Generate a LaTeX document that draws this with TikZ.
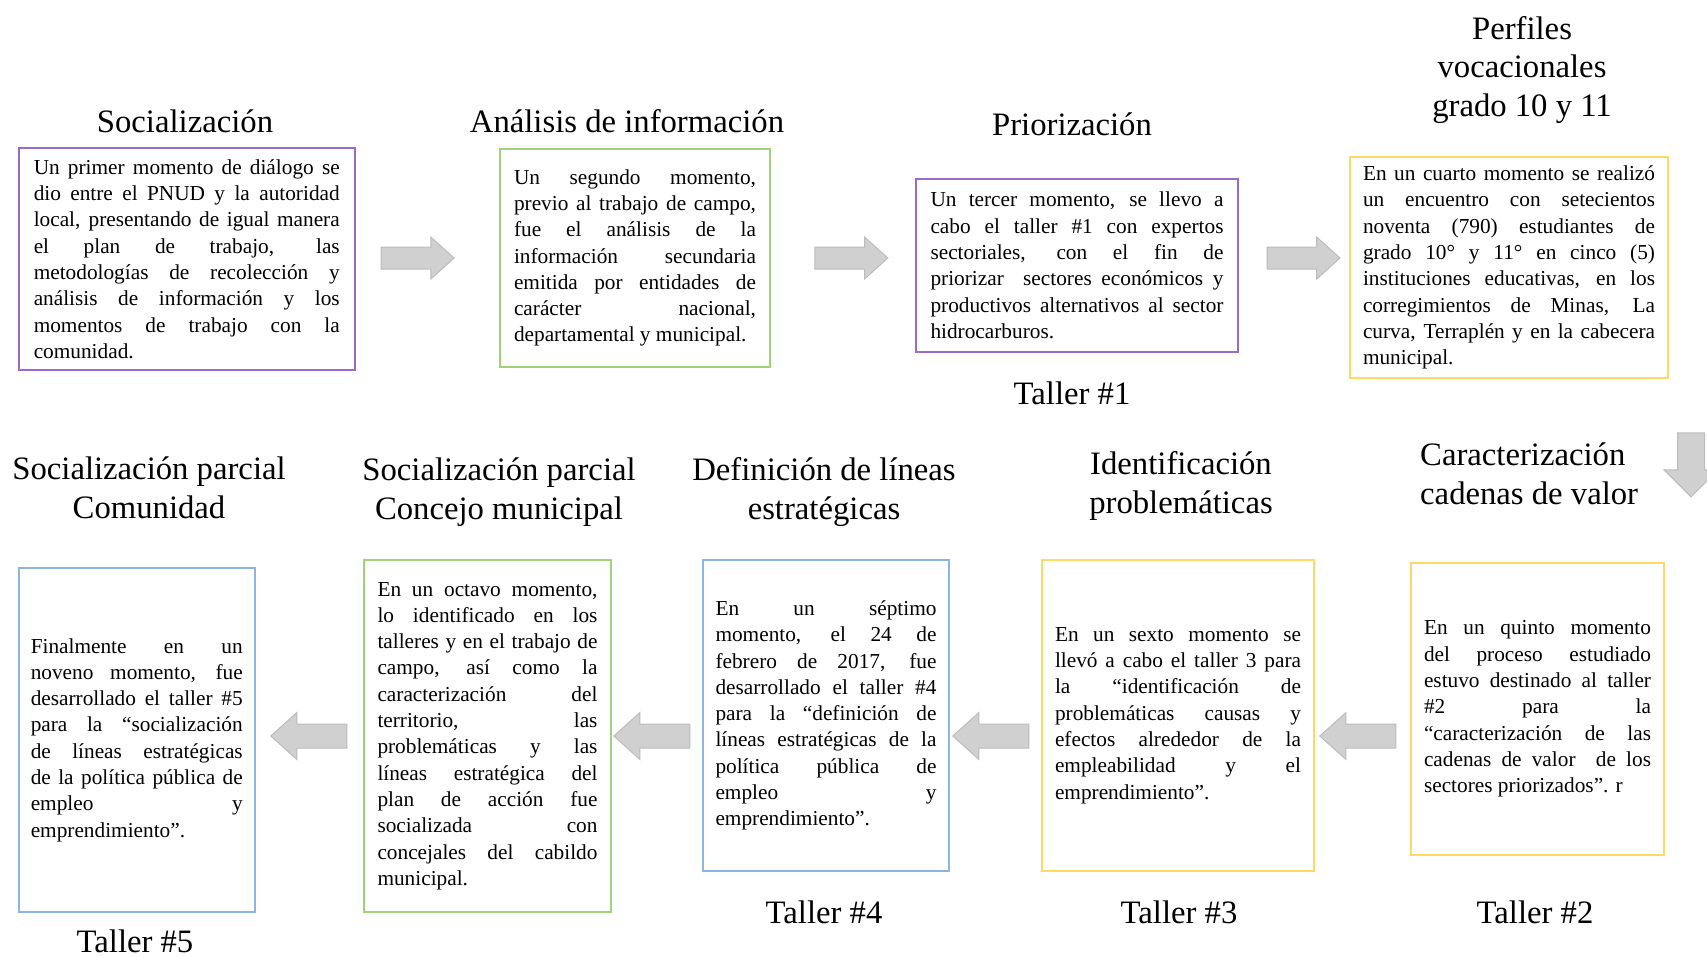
\documentclass[tikz,border=0pt]{standalone}
\usepackage{fontspec}
\setmainfont{Liberation Serif}
\usetikzlibrary{shapes.arrows}

\definecolor{morado}{RGB}{152,108,200}
\definecolor{verde}{RGB}{160,210,120}
\definecolor{dorado}{RGB}{255,217,102}
\definecolor{azul}{RGB}{141,180,226}
\definecolor{grisrelleno}{RGB}{208,208,208}
\definecolor{grisborde}{RGB}{188,188,188}

\newcommand{\fuentecaja}{\fontsize{21.3}{26.3}\selectfont\tolerance=10000\hyphenpenalty=10000}
\newcommand{\fuentetitulo}{\fontsize{32.7}{38.5}\selectfont}
\hbadness=10000

\begin{document}
\begin{tikzpicture}[x=1pt,y=-1pt,
    caja/.style={draw=#1, line width=2pt, inner sep=0pt, align=justify, font=\fuentecaja},
    titulo/.style={font=\fuentetitulo, align=center, inner sep=0pt},
    flecha/.style={single arrow, draw=grisborde, fill=grisrelleno, line width=1pt, anchor=tail,
        single arrow head indent=0pt, single arrow tip angle=84},
    flechasup/.style={flecha, minimum height=73pt, inner xsep=0pt, inner ysep=10.5pt, single arrow head extend=10pt},
    flechainf/.style={flecha, minimum height=76pt, inner xsep=0pt, inner ysep=11.5pt, single arrow head extend=11.5pt,
        shape border rotate=180},
    flechabaja/.style={flecha, minimum height=64pt, inner xsep=13pt, inner ysep=0pt, single arrow head extend=13.5pt,
        single arrow tip angle=90, shape border rotate=270}]
    \useasboundingbox (0,0) rectangle (1707,956);

    %FILA SUPERIOR
    \node[titulo, anchor=base] (t1) at (185,132) {Socialización};
    \node[caja=morado, text width=306pt, minimum width=336.5pt, minimum height=222pt] (b1) at (186.75,259) {Un primer momento de diálogo se\linebreak
        dio entre el PNUD y la autoridad\linebreak
        local, presentando de igual manera\linebreak
        el plan de trabajo, las\linebreak
        metodologías de recolección y\linebreak
        análisis de información y los\linebreak
        momentos de trabajo con la\linebreak
        comunidad.};

    \node[titulo, anchor=base] (t2) at (627,132) {Análisis de información};
    \node[caja=verde, text width=242pt, minimum width=270pt, minimum height=218pt] (b2) at (635,258) {Un segundo momento,\linebreak
        previo al trabajo de campo,\linebreak
        fue el análisis de la\linebreak
        información secundaria\linebreak
        emitida por entidades de\linebreak
        carácter nacional,\linebreak
        departamental y municipal.};

    \node[titulo, anchor=base] (t3) at (1072,135) {Priorización};
    \node[caja=morado, text width=293pt, minimum width=322pt, minimum height=173pt] (b3) at (1077,265.5) {Un tercer momento, se llevo a\linebreak
        cabo el taller \#1 con expertos\linebreak
        sectoriales, con el fin de\linebreak
        priorizar~ sectores económicos y\linebreak
        productivos alternativos al sector\linebreak
        hidrocarburos.};
    \node[titulo, anchor=base] (taller1) at (1072,404) {Taller \#1};

    \node[titulo] (t4) at (1522,70) {Perfiles\\vocacionales\\grado 10 y 11};
    \node[caja=dorado, text width=292pt, minimum width=318pt, minimum height=221pt] (b4) at (1509,267.5) {En un cuarto momento se realizó\linebreak
        un encuentro con setecientos\linebreak
        noventa (790) estudiantes de\linebreak
        grado 10° y 11° en cinco (5)\linebreak
        instituciones educativas, en los\linebreak
        corregimientos de Minas, La\linebreak
        curva, Terraplén y en la cabecera\linebreak
        municipal.};

    %FILA INFERIOR
    \node[titulo, align=left, anchor=west] (t5) at (1420,474) {Caracterización\\cadenas de valor};
    \node[caja=dorado, text width=227pt, minimum width=253pt, minimum height=292pt] (b5) at (1537.5,709) {En un quinto momento\linebreak
        del proceso estudiado\linebreak
        estuvo destinado al taller\linebreak
        \#2 para la\linebreak
        “caracterización de las\linebreak
        cadenas de valor~ de los\linebreak
        sectores priorizados”. r};
    \node[titulo, anchor=base] (taller2) at (1535,923) {Taller \#2};

    \node[titulo] (t6) at (1181,486) {Identificación\\problemáticas};
    \node[caja=dorado, text width=246pt, minimum width=272pt, minimum height=311pt] (b6) at (1178,715.5) {En un sexto momento se\linebreak
        llevó a cabo el taller 3 para\linebreak
        la “identificación de\linebreak
        problemáticas causas y\linebreak
        efectos alrededor de la\linebreak
        empleabilidad y el\linebreak
        emprendimiento”.};
    \node[titulo, anchor=base] (taller3) at (1179,923) {Taller \#3};

    \node[titulo] (t7) at (824,492) {Definición de líneas\\estratégicas};
    \node[caja=azul, text width=221pt, minimum width=246pt, minimum height=311pt] (b7) at (826,715.5) {En un séptimo\linebreak
        momento, el 24 de\linebreak
        febrero de 2017, fue\linebreak
        desarrollado el taller \#4\linebreak
        para la “definición de\linebreak
        líneas estratégicas de la\linebreak
        política pública de\linebreak
        empleo y\linebreak
        emprendimiento”.};
    \node[titulo, anchor=base] (taller4) at (824,923) {Taller \#4};

    \node[titulo] (t8) at (499,492) {Socialización parcial\\Concejo municipal};
    \node[caja=verde, text width=220pt, minimum width=247pt, minimum height=352pt] (b8) at (487.5,736) {En un octavo momento,\linebreak
        lo identificado en los\linebreak
        talleres y en el trabajo de\linebreak
        campo, así como la\linebreak
        caracterización del\linebreak
        territorio, las\linebreak
        problemáticas y las\linebreak
        líneas estratégica del\linebreak
        plan de acción fue\linebreak
        socializada con\linebreak
        concejales del cabildo\linebreak
        municipal.};

    \node[titulo] (t9) at (149,488) {Socialización parcial\\Comunidad};
    \node[caja=azul, text width=212pt, minimum width=236.5pt, minimum height=344pt] (b9) at (136.75,740) {Finalmente en un\linebreak
        noveno momento, fue\linebreak
        desarrollado el taller \#5\linebreak
        para la “socialización\linebreak
        de líneas estratégicas\linebreak
        de la política pública de\linebreak
        empleo y\linebreak
        emprendimiento”.};
    \node[titulo, anchor=base] (taller5) at (135,952) {Taller \#5};

    %FLECHAS
    \coordinate (fila1) at (0,258);
    \coordinate (fila2) at (0,736);
    \coordinate (col) at (1691,0);
    \path (b1.east |- fila1) -- (b2.west |- fila1) node[flechasup, pos=.172] (f12) {};
    \path (b2.east |- fila1) -- (b3.west |- fila1) node[flechasup, pos=.301] (f23) {};
    \path (b3.east |- fila1) -- (b4.west |- fila1) node[flechasup, pos=.25] (f34) {};
    \path (b4.south -| col) -- (b5.north -| col) node[flechabaja, pos=.292] (f45) {};
    \path (b5.west |- fila2) -- (b6.east |- fila2) node[flechainf, pos=.144] (f56) {};
    \path (b6.west |- fila2) -- (b7.east |- fila2) node[flechainf, pos=.129] (f67) {};
    \path (b7.west |- fila2) -- (b8.east |- fila2) node[flechainf, pos=.13] (f78) {};
    \path (b8.west |- fila2) -- (b9.east |- fila2) node[flechainf, pos=.147] (f89) {};
\end{tikzpicture}
\end{document}
